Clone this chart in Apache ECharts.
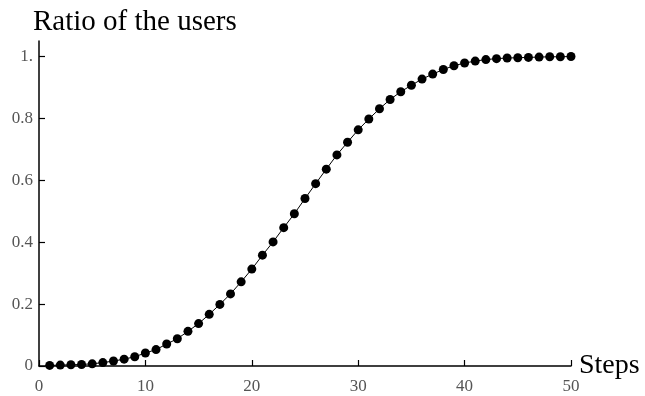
<!DOCTYPE html>
<html>
<head>
<meta charset="utf-8">
<script src="https://cdn.jsdelivr.net/npm/echarts@6/dist/echarts.min.js"></script>
<style>html,body{margin:0;padding:0;background:#fff}#c{width:645px;height:396px}</style>
</head>
<body>
<div id="c"></div>
<script>
var steps = [1,2,3,4,5,6,7,8,9,10,11,12,13,14,15,16,17,18,19,20,21,22,23,24,25,26,27,28,29,30,31,32,33,34,35,36,37,38,39,40,41,42,43,44,45,46,47,48,49,50];
var ratio = [0.002,0.003,0.004,0.005,0.007,0.011,0.016,0.022,0.030,0.042,
             0.053,0.071,0.088,0.112,0.137,0.167,0.199,0.233,0.272,0.313,
             0.358,0.401,0.447,0.492,0.541,0.589,0.636,0.682,0.723,0.763,
             0.798,0.831,0.861,0.886,0.907,0.927,0.943,0.958,0.970,0.979,
             0.985,0.990,0.993,0.995,0.996,0.997,0.998,0.999,0.999,1.000];
var xTicks = [0,10,20,30,40,50];
var yTicks = [0,0.2,0.4,0.6,0.8,1];
var yLabels = ['0','0.2','0.4','0.6','0.8','1.'];
var titleText = 'Ratio of the users';
var xName = 'Steps';

var serif = 'Liberation Serif';
var chart = echarts.init(document.getElementById('c'));
chart.setOption({
  animation: false,
  backgroundColor: '#fff',
  title: {
    text: titleText, left: 28, top: 3,
    textStyle: {fontFamily: serif, fontSize: 29, fontWeight: 'normal', color: '#000'}
  },
  grid: {left: 39, right: 74, top: 41, bottom: 30, containLabel: false, outerBoundsMode: 'none'},
  xAxis: {
    type: 'value', min: 0, max: 50, interval: 10,
    name: xName, nameLocation: 'end', nameGap: 8, nameMoveOverlap: false,
    nameTextStyle: {fontFamily: serif, fontSize: 28, color: '#000', padding: [0,0,24,0]},
    axisLine: {show: true, onZero: false, lineStyle: {color: '#000', width: 1.5}},
    axisTick: {show: true, inside: true, length: 6, lineStyle: {color: '#000', width: 1.2}, customValues: xTicks},
    axisLabel: {customValues: xTicks, fontFamily: serif, fontSize: 17, color: '#555', margin: 12},
    splitLine: {show: false}
  },
  yAxis: {
    type: 'value', min: 0, max: 1.05,
    axisLine: {show: true, onZero: false, lineStyle: {color: '#000', width: 1.5}},
    axisTick: {show: true, inside: true, length: 6, lineStyle: {color: '#000', width: 1.2}, customValues: yTicks},
    axisLabel: {
      customValues: yTicks, fontFamily: serif, fontSize: 17, color: '#555', margin: 6,
      formatter: function (v) { var i = yTicks.indexOf(v); return i >= 0 ? yLabels[i] : ''; }
    },
    splitLine: {show: false}
  },
  series: [{
    type: 'line',
    data: steps.map(function (s, i) { return [s, ratio[i]]; }),
    symbol: 'circle', symbolSize: 9,
    itemStyle: {color: '#000'},
    lineStyle: {color: '#000', width: 1},
    clip: false
  }]
});
</script>
</body>
</html>
